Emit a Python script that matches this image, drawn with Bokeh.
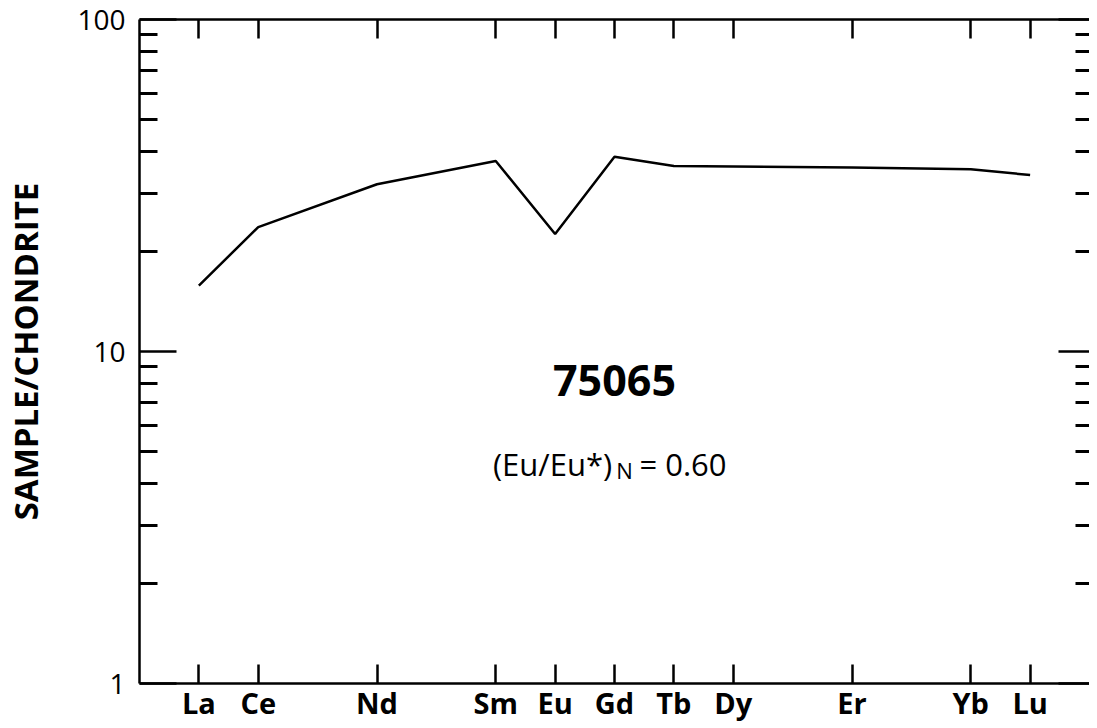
from bokeh.plotting import figure
from bokeh.models import (FixedTicker, LinearAxis, LogAxis, PrintfTickFormatter, Range1d)
from bokeh.core.properties import value
from bokeh.embed import file_html
from bokeh.resources import INLINE

# ---- data ----
elements = ["La", "Ce", "Nd", "Sm", "Eu", "Gd", "Tb", "Dy", "Er", "Yb", "Lu"]
atomic_numbers = [57, 58, 60, 62, 63, 64, 65, 66, 68, 70, 71]
sample_chondrite = [15.8, 23.7, 31.9, 37.5, 22.6, 38.6, 36.2, 36.1, 35.8, 35.4, 34.0]
y_major = [1, 10, 100]
y_minor = [2, 3, 4, 5, 6, 7, 8, 9, 20, 30, 40, 50, 60, 70, 80, 90]
sample_name = "75065"
eu_label_main = "(Eu/Eu*)"
eu_label_sub = "N"
eu_label_value = "= 0.60"

FONT = "Open Sans"

p = figure(width=1089, height=724, y_axis_type="log",
           x_range=Range1d(56, 72), y_range=Range1d(1, 100),
           output_backend="svg", toolbar_location=None,
           min_border_left=129, min_border_right=0, min_border_top=19, min_border_bottom=0)
p.outline_line_color = None
p.grid.visible = False
p.background_fill_color = "white"
p.border_fill_color = "white"

xticker = FixedTicker(ticks=atomic_numbers)
yticker = FixedTicker(ticks=y_major, minor_ticks=y_minor)

# bottom axis
xa = p.xaxis[0]
xa.ticker = xticker
xa.major_label_overrides = {n: e for n, e in zip(atomic_numbers, elements)}
xa.major_tick_in = 19
xa.major_tick_out = 0
xa.major_tick_line_width = 2.5
xa.axis_line_width = 2.5
xa.major_label_standoff = -1
xa.major_label_text_font = FONT
xa.major_label_text_font_style = "bold"
xa.major_label_text_font_size = "29px"
xa.major_label_text_color = "black"

# left axis
ya = p.yaxis[0]
ya.ticker = yticker
ya.formatter = PrintfTickFormatter(format="%d")
ya.major_tick_in = 37
ya.major_tick_out = 0
ya.minor_tick_in = 18
ya.minor_tick_out = 0
ya.major_tick_line_width = 2.5
ya.minor_tick_line_width = 3
ya.axis_line_width = 2.5
ya.major_label_standoff = 14
ya.major_label_text_font = FONT
ya.major_label_text_font_size = "28px"
ya.major_label_text_color = "black"
ya.axis_label = "SAMPLE/CHONDRITE"
ya.axis_label_text_font = FONT
ya.axis_label_text_font_style = "bold"
ya.axis_label_text_font_size = "33px"
ya.axis_label_standoff = 26
ya.axis_label_text_color = "black"

# top axis (ticks only)
top = LinearAxis(ticker=xticker, major_tick_in=19, major_tick_out=0,
                 major_tick_line_width=2.5, axis_line_width=2.5,
                 major_label_overrides={n: "" for n in atomic_numbers},
                 major_label_text_font_size="1px", major_label_standoff=0,
                 axis_label_standoff=0)
p.add_layout(top, "above")

# right axis (ticks only)
right = LogAxis(ticker=yticker, major_tick_in=31, major_tick_out=0,
                minor_tick_in=14, minor_tick_out=0,
                major_tick_line_width=2.5, minor_tick_line_width=3,
                axis_line_color=None,
                major_label_overrides={n: "" for n in y_major},
                major_label_text_font_size="1px", major_label_standoff=-8,
                axis_label_standoff=0)
p.add_layout(right, "right")

# data line
p.line(x=atomic_numbers, y=sample_chondrite, line_color="black", line_width=2.5)

# annotations
p.text(x=[64.0], y=[8.2], text=[sample_name], text_font=value(FONT),
       text_font_style="bold", text_font_size="43px", text_align="center",
       text_baseline="middle", text_color="black")
p.text(x=[63.96], y=[4.59], text=[eu_label_main], text_font=value(FONT),
       text_font_size="31px", text_align="right", text_baseline="alphabetic",
       text_color="black")
p.text(x=[64.03], y=[4.40], text=[eu_label_sub], text_font=value(FONT),
       text_font_size="22px", text_align="left", text_baseline="alphabetic",
       text_color="black")
p.text(x=[64.42], y=[4.59], text=[eu_label_value], text_font=value(FONT),
       text_font_size="31px", text_align="left", text_baseline="alphabetic",
       text_color="black")

open("out.html", "w").write(file_html(p, INLINE))
